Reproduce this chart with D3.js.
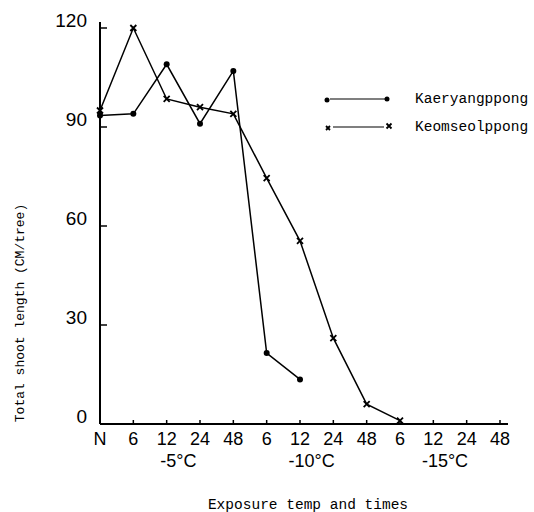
<!DOCTYPE html>
<html>
<head>
<meta charset="utf-8">
<script src="https://cdn.jsdelivr.net/npm/d3@7"></script>
<style>
  body { margin: 0; background: #fff; }
  svg { display: block; }
</style>
</head>
<body>
<script>
// x categories: exposure times, grouped by temperature
var timeLabels = ["N", "6", "12", "24", "48", "6", "12", "24", "48", "6", "12", "24", "48"];
var groupLabels = ["-5°C", "-10°C", "-15°C"];
var groupStart = [1, 5, 9]; // first category index of each group
var yTicks = [0, 30, 60, 90, 120];

// total shoot length (cm/tree)
var kaeryang = [93.5, 94, 109, 91, 107, 21.5, 13.5];
var keomseol = [95, 120, 98.5, 96, 94, 74.5, 55.5, 26, 6, 1];

var width = 534, height = 512;

var x = d3.scalePoint()
	.domain(d3.range(timeLabels.length))
	.range([100, 500]);

var y = d3.scaleLinear()
	.domain([0, 120])
	.range([424, 28]);

var svg = d3.select('body').append('svg')
	.attr('width', width)
	.attr('height', height);

var numFont = '"Liberation Sans Narrow", "Liberation Sans", Arial, sans-serif';
var monoFont = '"Liberation Mono", "DejaVu Sans Mono", monospace';

// y axis
svg.append('line')
	.attr('x1', 100).attr('x2', 100)
	.attr('y1', y(0)).attr('y2', 22)
	.attr('stroke', '#000').attr('stroke-width', 2);

svg.selectAll('.ytick').data(yTicks).enter().append('line')
	.attr('x1', 100).attr('x2', 107)
	.attr('y1', function(d){ return y(d) })
	.attr('y2', function(d){ return y(d) })
	.attr('stroke', '#000').attr('stroke-width', 1.5);

svg.selectAll('.ylab').data(yTicks).enter().append('text')
	.attr('x', 87)
	.attr('y', function(d){ return y(d) - 1 })
	.attr('text-anchor', 'end')
	.style('font-family', numFont)
	.style('font-size', '19px')
	.text(function(d){ return d });

// x axis
svg.append('line')
	.attr('x1', 100).attr('x2', 508)
	.attr('y1', y(0)).attr('y2', y(0))
	.attr('stroke', '#000').attr('stroke-width', 2);

svg.selectAll('.xtick').data(d3.range(1, timeLabels.length)).enter().append('line')
	.attr('x1', function(d){ return x(d) }).attr('x2', function(d){ return x(d) })
	.attr('y1', y(0)).attr('y2', y(0) - 4)
	.attr('stroke', '#000').attr('stroke-width', 1.5);

svg.selectAll('.xlab').data(timeLabels).enter().append('text')
	.attr('x', function(d, i){ return x(i) })
	.attr('y', 445)
	.attr('text-anchor', 'middle')
	.style('font-family', numFont)
	.style('font-size', '18px')
	.text(function(d){ return d });

svg.selectAll('.glab').data(groupLabels).enter().append('text')
	.attr('x', function(d, i){ return (x(groupStart[i]) + x(groupStart[i] + 3)) / 2 - 5 })
	.attr('y', 467)
	.attr('text-anchor', 'middle')
	.style('font-family', numFont)
	.style('font-size', '18px')
	.text(function(d){ return d });

// axis titles
svg.append('text')
	.attr('x', 308).attr('y', 509)
	.attr('text-anchor', 'middle')
	.style('font-family', monoFont)
	.style('font-size', '14.5px')
	.text('Exposure temp and times');

svg.append('text')
	.attr('transform', 'translate(24,313) rotate(-90)')
	.attr('text-anchor', 'middle')
	.style('font-family', monoFont)
	.style('font-size', '13px')
	.text('Total shoot length (CM/tree)');

// lines
var line = d3.line()
	.x(function(d, i){ return x(i) })
	.y(function(d){ return y(d) });

svg.append('path').datum(kaeryang)
	.attr('d', line)
	.attr('fill', 'none').attr('stroke', '#000').attr('stroke-width', 1.5);

svg.append('path').datum(keomseol)
	.attr('d', line)
	.attr('fill', 'none').attr('stroke', '#000').attr('stroke-width', 1.5);

// markers
svg.selectAll('.dot').data(kaeryang).enter().append('circle')
	.attr('cx', function(d, i){ return x(i) })
	.attr('cy', function(d){ return y(d) })
	.attr('r', 3)
	.attr('fill', '#000');

function cross(g, cx, cy, s) {
	g.append('path')
		.attr('d', 'M' + (cx - s) + ',' + (cy - s) + 'L' + (cx + s) + ',' + (cy + s) +
			'M' + (cx - s) + ',' + (cy + s) + 'L' + (cx + s) + ',' + (cy - s))
		.attr('stroke', '#000').attr('stroke-width', 1.8);
}

keomseol.forEach(function(d, i){ cross(svg, x(i), y(d), 3) });

// legend
var leg = svg.append('g');
leg.append('line').attr('x1', 330).attr('x2', 385).attr('y1', 99).attr('y2', 99)
	.attr('stroke', '#000').attr('stroke-width', 1.2);
leg.append('circle').attr('cx', 327).attr('cy', 100).attr('r', 2.5).attr('fill', '#000');
leg.append('circle').attr('cx', 387).attr('cy', 99).attr('r', 2.5).attr('fill', '#000');
leg.append('line').attr('x1', 333).attr('x2', 384).attr('y1', 127).attr('y2', 127)
	.attr('stroke', '#000').attr('stroke-width', 1.2);
cross(leg, 328, 128, 2);
cross(leg, 389, 126, 2.5);

leg.append('text').attr('x', 415).attr('y', 103)
	.style('font-family', monoFont).style('font-size', '14.5px')
	.text('Kaeryangppong');
leg.append('text').attr('x', 415).attr('y', 131)
	.style('font-family', monoFont).style('font-size', '14.5px')
	.text('Keomseolppong');
</script>
</body>
</html>
